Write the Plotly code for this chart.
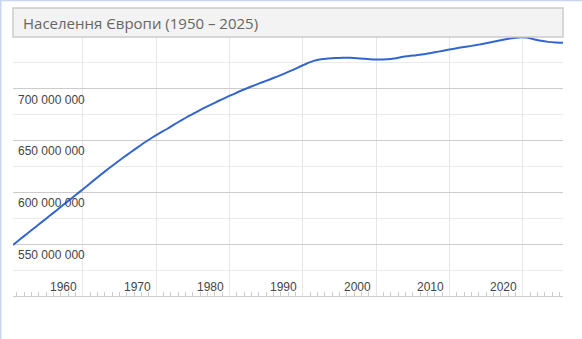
import plotly.graph_objects as go

# ---- data (population of Europe, millions) ----
years = list(range(1950, 2026))
population_m = [
    549.3, 555.0, 560.6, 566.2, 571.8, 577.4, 583.1, 588.8, 594.4, 600.0,
    605.7, 611.6, 617.3, 622.8, 628.2, 633.4, 638.5, 643.5, 648.4, 653.0,
    657.2, 661.2, 665.6, 669.8, 673.8, 677.6, 681.3, 684.8, 688.2, 691.5,
    694.7, 697.9, 700.8, 703.6, 706.3, 709.0, 711.8, 714.7, 717.7, 721.0,
    724.2, 727.0, 728.6, 729.3, 729.7, 730.0, 730.0, 729.6, 729.0, 728.4,
    728.2, 728.5, 729.3, 730.6, 731.6, 732.4, 733.3, 734.6, 735.9, 737.2,
    738.5, 739.8, 740.9, 742.0, 743.3, 744.7, 746.2, 747.6, 748.8, 749.6,
    749.4, 747.9, 746.3, 745.3, 744.8, 744.5,
]
x_tick_years = [1960, 1970, 1980, 1990, 2000, 2010, 2020]
y_tick_vals = [550, 600, 650, 700]
y_tick_text = ["550 000 000", "600 000 000", "650 000 000", "700 000 000"]
title_text = "Населення Європи (1950 – 2025)"

dates = [f"{y}-07-01" for y in years]

W, H = 582, 339
L, R, T, B = 13, 19, 37, 43
pw, ph = W - L - R, H - T - B

def px(x):
    return (x - L) / pw

def py(y):
    return (H - B - y) / ph

fig = go.Figure()
fig.add_trace(go.Scatter(
    x=dates, y=population_m, mode="lines",
    line=dict(color="#3366cc", width=2, shape="spline", smoothing=0.6),
    hoverinfo="skip",
))

tickfont = dict(family="Liberation Sans", size=12, color="#444444")

fig.update_xaxes(
    type="date", range=[dates[0], dates[-1]],
    tickmode="linear", tick0="1960-01-01", dtick="M120",
    showticklabels=False, ticks="",
    showgrid=True, gridcolor="#e6e6e6", gridwidth=1,
    showline=True, linecolor="#cccccc", linewidth=1, zeroline=False,
    minor=dict(tick0="1950-01-01", dtick="M12", ticks="inside", ticklen=4,
               tickcolor="#cccccc", tickwidth=1, showgrid=False),
)
fig.update_yaxes(
    range=[500, 750], tickmode="array", tickvals=y_tick_vals,
    showticklabels=False, ticks="",
    showgrid=True, gridcolor="#cccccc", gridwidth=1,
    showline=False, zeroline=False,
    minor=dict(tick0=0, dtick=25, showgrid=True, gridcolor="#ebebeb", ticks=""),
)

shapes = [
    # title box
    dict(type="rect", xref="paper", yref="paper", x0=px(13), x1=px(563), y0=py(37), y1=py(8),
         fillcolor="#f3f3f3", line=dict(color="#cccccc", width=1.5), layer="above"),
    # light blue frame (left and top)
    dict(type="rect", xref="paper", yref="paper", x0=px(0), x1=px(1.5), y0=py(H), y1=py(0),
         fillcolor="#c8d5ea", line=dict(width=0), layer="above"),
    dict(type="rect", xref="paper", yref="paper", x0=px(0), x1=px(W), y0=py(1.2), y1=py(0),
         fillcolor="#c8d5ea", line=dict(width=0), layer="above"),
]

annotations = [dict(
    text=title_text, xref="paper", yref="paper", x=px(20.5), y=py(22.5),
    xanchor="left", yanchor="middle", showarrow=False,
    font=dict(family="Open Sans", size=15, color="#666666"),
)]
for yr in x_tick_years:
    annotations.append(dict(
        text=str(yr), xref="x", yref="paper", x=f"{yr}-01-01", y=py(286.7),
        xanchor="right", yanchor="middle", xshift=-3.5, showarrow=False,
        font=tickfont,
    ))
for val, txt in zip(y_tick_vals, y_tick_text):
    annotations.append(dict(
        text=txt, xref="paper", yref="y", x=px(16), y=val,
        xanchor="left", yanchor="middle", yshift=-10.7, showarrow=False,
        font=tickfont,
    ))

fig.update_layout(
    width=W, height=H, margin=dict(l=L, r=R, t=T, b=B),
    paper_bgcolor="white", plot_bgcolor="white", showlegend=False,
    shapes=shapes, annotations=annotations,
)

fig.write_html("out.html")
